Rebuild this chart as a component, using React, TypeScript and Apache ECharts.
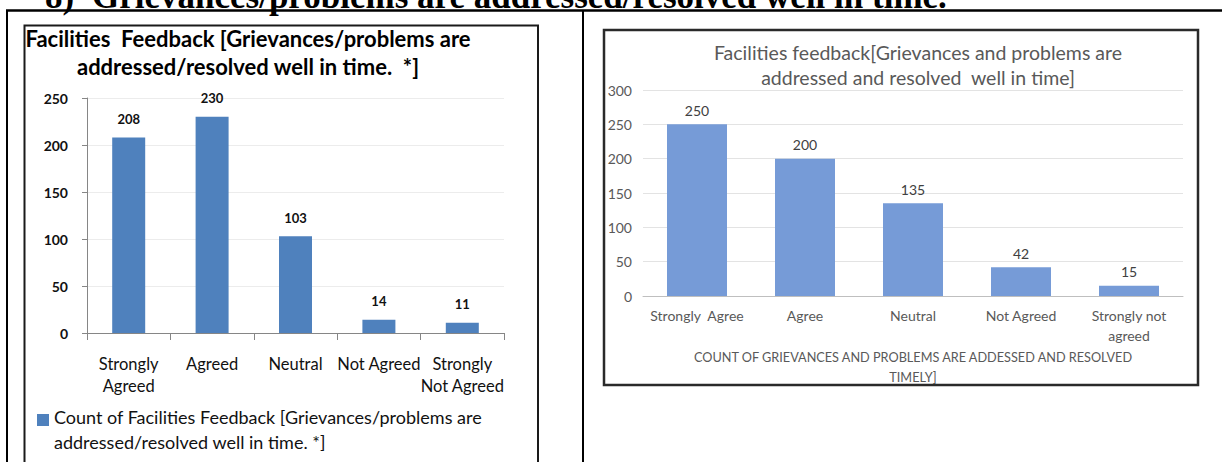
import React, { useEffect, useRef } from "react";
import * as echarts from "echarts";

const headingNumber = "8)";
const headingText = "Grievances/problems are addressed/resolved well in time.";

const leftTitle = "Facilities  Feedback [Grievances/problems are\naddressed/resolved well in time.  *]";
const leftCategories = ["Strongly\nAgreed", "Agreed", "Neutral", "Not Agreed", "Strongly\nNot Agreed"];
const leftValues = [208, 230, 103, 14, 11];
const leftSeriesName = "Count of Facilities Feedback [Grievances/problems are addressed/resolved well in time. *]";
const leftLegendLines = ["Count of Facilities Feedback [Grievances/problems are", "addressed/resolved well in time. *]"];
const leftAxisMax = 250;
const leftAxisStep = 50;

const rightTitle = "Facilities feedback[Grievances and problems are\naddressed and resolved  well in time]";
const rightCategories = ["Strongly  Agree", "Agree", "Neutral", "Not Agreed", "Strongly not\nagreed"];
const rightValues = [250, 200, 135, 42, 15];
const rightSeriesName = "Count";
const rightAxisName = "COUNT OF GRIEVANCES AND PROBLEMS ARE ADDESSED AND RESOLVED\nTIMELY]";
const rightAxisMax = 300;
const rightAxisStep = 50;

const SANS = "Lato, 'Open Sans', 'Noto Sans', sans-serif";
const SERIF_BOLD = "bold 35px 'Liberation Serif', 'Times New Roman', serif";

export default function App() {
  const ref = useRef<HTMLDivElement>(null);
  useEffect(() => {
    const chart = echarts.init(ref.current as HTMLDivElement, null, { renderer: "svg" });
    const legendRich = {
      a: { fontFamily: SANS, fontSize: 18, lineHeight: 44, color: "#111111" },
      b: { fontFamily: SANS, fontSize: 18, lineHeight: 6, color: "#111111" },
    };
    const option: any = {
      animation: false,
      backgroundColor: "#ffffff",
      title: [
        {
          text: leftTitle,
          left: 248,
          top: 24,
          textAlign: "center",
          padding: 0,
          textStyle: { fontFamily: SANS, fontWeight: "bold", fontSize: 22, lineHeight: 28, color: "#000000" },
        },
        {
          text: rightTitle,
          left: 918,
          top: 40,
          textAlign: "center",
          padding: 0,
          textStyle: { fontFamily: SANS, fontWeight: "normal", fontSize: 19.5, lineHeight: 25, color: "#595959" },
        },
      ],
      legend: {
        data: [leftSeriesName],
        left: 37,
        top: 408,
        padding: 0,
        icon: "rect",
        itemWidth: 12,
        itemHeight: 12,
        selectedMode: false,
        formatter: () => `{a|${leftLegendLines[0]}}\n{b|${leftLegendLines[1]}}`,
        textStyle: { fontFamily: SANS, fontSize: 18, color: "#111111", rich: legendRich },
      },
      grid: [
        { left: 87, right: 718, top: 98, bottom: 129 },
        { left: 643, right: 39, top: 90, bottom: 166 },
      ],
      xAxis: [
        {
          type: "category",
          gridIndex: 0,
          data: leftCategories,
          axisLine: { lineStyle: { color: "#868686", width: 1 } },
          axisTick: { show: true, length: 7, alignWithLabel: false, interval: 0, lineStyle: { color: "#868686" } },
          axisLabel: { interval: 0, margin: 20, fontFamily: SANS, fontSize: 16.5, lineHeight: 22, color: "#111111" },
        },
        {
          type: "category",
          gridIndex: 1,
          data: rightCategories,
          axisLine: { lineStyle: { color: "#BFBFBF", width: 1 } },
          axisTick: { show: false },
          axisLabel: { interval: 0, margin: 9, fontFamily: SANS, fontSize: 14, lineHeight: 20, color: "#595959" },
          name: rightAxisName,
          nameLocation: "middle",
          nameGap: 51,
          nameTextStyle: { fontFamily: SANS, fontSize: 12.7, lineHeight: 20, color: "#595959" },
        },
      ],
      yAxis: [
        {
          type: "value",
          gridIndex: 0,
          min: 0,
          max: leftAxisMax,
          interval: leftAxisStep,
          axisLine: { show: true, lineStyle: { color: "#868686" } },
          axisTick: { show: true, length: 5, lineStyle: { color: "#868686" } },
          splitLine: { show: true, lineStyle: { color: "#ECECEC", width: 1 } },
          axisLabel: { margin: 19, fontFamily: SANS, fontSize: 14, fontWeight: "bold", color: "#111111" },
        },
        {
          type: "value",
          gridIndex: 1,
          min: 0,
          max: rightAxisMax,
          interval: rightAxisStep,
          axisLine: { show: false },
          axisTick: { show: false },
          splitLine: { show: true, lineStyle: { color: "#E3E3E3", width: 1 } },
          axisLabel: { margin: 11, fontFamily: SANS, fontSize: 14, color: "#595959" },
        },
      ],
      series: [
        {
          name: leftSeriesName,
          type: "bar",
          xAxisIndex: 0,
          yAxisIndex: 0,
          data: leftValues,
          barWidth: 33,
          itemStyle: { color: "#4F81BD" },
          label: { show: true, position: "top", distance: 12, fontFamily: SANS, fontSize: 13, fontWeight: "bold", color: "#111111" },
        },
        {
          name: rightSeriesName,
          type: "bar",
          xAxisIndex: 1,
          yAxisIndex: 1,
          data: rightValues,
          barWidth: 60,
          itemStyle: { color: "#769BD7" },
          label: { show: true, position: "top", distance: 7, fontFamily: SANS, fontSize: 14, color: "#404040" },
        },
      ],
      graphic: [
        {
          type: "text",
          x: 45,
          y: -4,
          style: { text: headingNumber, font: SERIF_BOLD, fill: "#000", align: "left", verticalAlign: "middle" },
        },
        {
          type: "text",
          x: 92,
          y: -4,
          style: { text: headingText, font: SERIF_BOLD, fill: "#000", align: "left", verticalAlign: "middle" },
        },
        { type: "line", shape: { x1: 6, y1: 10.5, x2: 1222, y2: 10.5 }, style: { stroke: "#000", lineWidth: 2.5 } },
        { type: "line", shape: { x1: 7, y1: 10, x2: 7, y2: 470 }, style: { stroke: "#000", lineWidth: 2 } },
        { type: "line", shape: { x1: 583, y1: 10, x2: 583, y2: 470 }, style: { stroke: "#000", lineWidth: 2 } },
        {
          type: "polyline",
          shape: { points: [[24.5, 470], [24.5, 25.5], [538, 25.5], [538, 470]] },
          style: { stroke: "#1a1a1a", lineWidth: 2, fill: null },
        },
        {
          type: "rect",
          shape: { x: 604, y: 30, width: 594, height: 355 },
          style: { stroke: "#2a2a2a", lineWidth: 2.5, fill: null },
        },
      ],
    };
    chart.setOption(option);
    return () => chart.dispose();
  }, []);
  return (
    <div
      ref={ref}
      style={{ position: "fixed", left: 0, top: 0, width: 1222, height: 462, background: "#fff" }}
    />
  );
}
